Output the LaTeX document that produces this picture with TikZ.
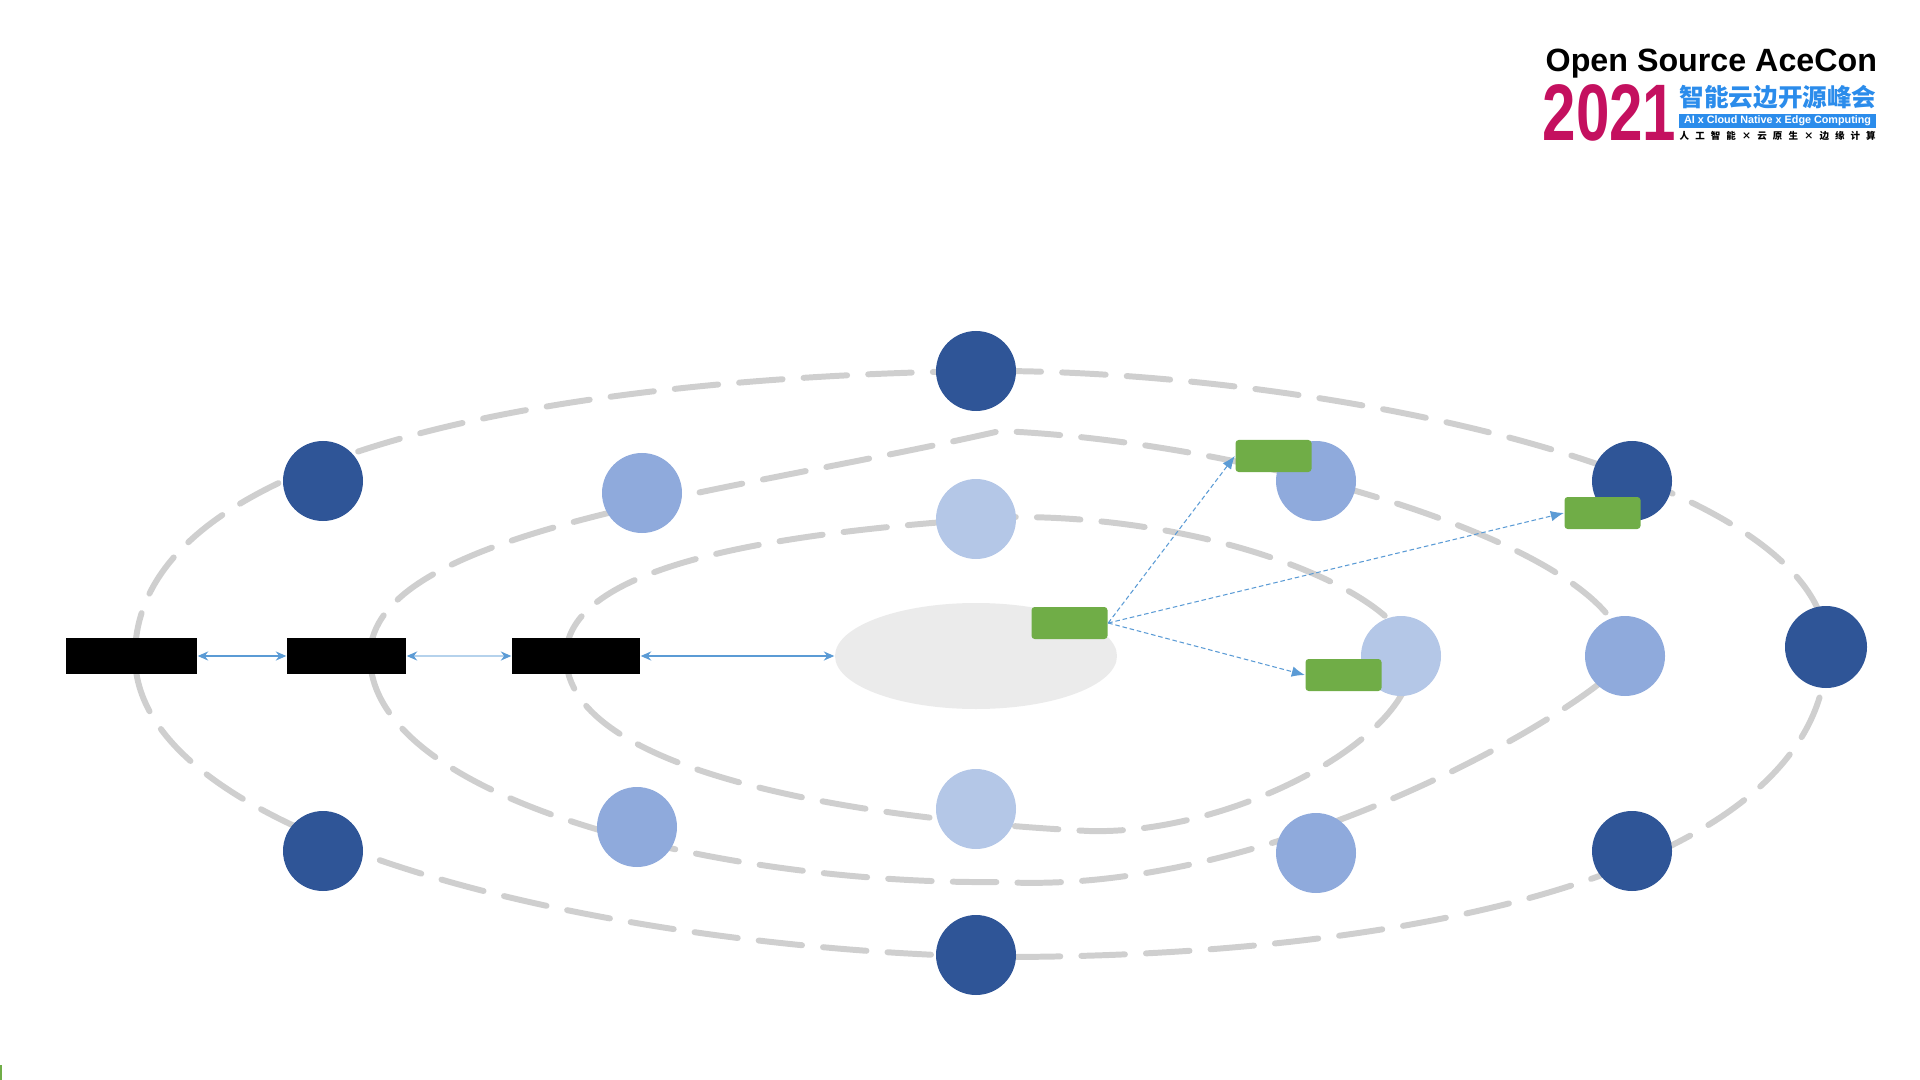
\documentclass[tikz,border=0pt]{standalone}
\usepackage{fontspec}
\setmainfont{Liberation Sans}
\newfontfamily\cjkfont{Noto Sans CJK SC}
\usepackage{xcolor}
\usetikzlibrary{positioning,arrows.meta,shapes.geometric}
\definecolor{outercol}{HTML}{2F5597}
\definecolor{midcol}{HTML}{8FAADC}
\definecolor{innercol}{HTML}{B4C7E7}
\definecolor{orbitcol}{HTML}{CFCFCF}
\definecolor{corecol}{HTML}{EBEBEB}
\definecolor{greencol}{HTML}{70AD47}
\definecolor{linkcol}{HTML}{5B9BD5}
\definecolor{logoblue}{HTML}{2B8CEB}
\definecolor{logored}{HTML}{C4105F}
\tikzset{
  orbit/.style={draw=orbitcol, line width=1.7pt, line cap=round, dash pattern=on 12.4pt off 6pt},
  dot/.style={circle, inner sep=0pt, minimum size=0.8cm},
  outerdot/.style={dot, fill=outercol},
  middot/.style={dot, fill=midcol},
  innerdot/.style={dot, fill=innercol},
  greenbox/.style={rectangle, rounded corners=0.9pt, fill=greencol, inner sep=0pt, minimum width=0.76cm, minimum height=0.32cm},
  blackbox/.style={rectangle, fill=black, inner sep=0pt, minimum height=0.36cm},
  link/.style={draw=linkcol, line width=0.4pt, {Stealth[length=3pt,width=2.6pt,color=linkcol]}-{Stealth[length=3pt,width=2.6pt,color=linkcol]}},
  hop/.style={draw=linkcol, line width=0.3pt, dash pattern=on 1.3pt off 0.8pt, -{Latex[length=3.7pt,width=3pt]}},
}
\begin{document}
\begin{tikzpicture}[y=-1cm]
  \useasboundingbox (0,0) rectangle (19.2,10.8);
  % orbits
  \draw[orbit] (1.35,6.56) .. controls (1.35,4.5) and (5.6,3.78) .. (9.76,3.71)
    .. controls (13,3.68) and (18.22,4.68) .. (18.27,6.47)
    .. controls (18.27,8.7) and (14.2,9.57) .. (10,9.57)
    .. controls (6.2,9.5) and (1.35,8.45) .. cycle;
  \draw[orbit] (3.70,6.56) .. controls (3.70,5.3) and (7.2,4.95) .. (10,4.31)
    .. controls (12.6,4.42) and (16.25,5.5) .. (16.25,6.56)
    .. controls (16.25,6.85) and (12.9,8.98) .. (10,8.82)
    .. controls (7.2,8.85) and (3.70,8) .. cycle;
  \draw[orbit] (5.66,6.56) .. controls (5.66,5.6) and (8,5.3) .. (10.16,5.17)
    .. controls (12.2,5.17) and (14.1,5.95) .. (14.12,6.6)
    .. controls (14.12,7.4) and (12.3,8.35) .. (10.89,8.31)
    .. controls (8.7,8.2) and (5.66,7.75) .. cycle;
  % centre
  \node[ellipse, fill=corecol, inner sep=0pt, minimum width=2.82cm, minimum height=1.06cm] (core) at (9.76,6.56) {};
  % outer ring
  \node[outerdot] (o1) at (3.23,4.81) {};
  \node[outerdot] (o2) at (9.76,3.71) {};
  \node[outerdot] (o3) at (16.32,4.81) {};
  \node[outerdot, minimum size=0.82cm] (o4) at (18.26,6.47) {};
  \node[outerdot] (o5) at (16.32,8.51) {};
  \node[outerdot] (o6) at (9.76,9.55) {};
  \node[outerdot] (o7) at (3.23,8.51) {};
  % middle ring
  \node[middot] (m1) at (6.42,4.93) {};
  \node[middot] (m2) at (13.16,4.81) {};
  \node[middot] (m3) at (16.25,6.56) {};
  \node[middot] (m4) at (13.16,8.53) {};
  \node[middot] (m5) at (6.37,8.27) {};
  % inner ring
  \node[innerdot] (i1) at (9.76,5.19) {};
  \node[innerdot] (i2) at (14.01,6.56) {};
  \node[innerdot] (i3) at (9.76,8.09) {};
  % left blocks
  \node[blackbox, minimum width=1.31cm] (b1) at (1.315,6.56) {};
  \node[blackbox, minimum width=1.19cm] (b2) at (3.465,6.56) {};
  \node[blackbox, minimum width=1.28cm] (b3) at (5.76,6.56) {};
  \draw[link] (b1) -- (b2);
  \draw[link, draw=linkcol!45] (b2) -- (b3);
  \draw[link] (b3) -- (core);
  % green boxes
  \node[greenbox] (g0) at (10.695,6.23) {};
  \node[greenbox] (g1) at (12.735,4.56) {};
  \node[greenbox] (g2) at (16.025,5.13) {};
  \node[greenbox] (g3) at (13.435,6.75) {};
  \draw[hop] (g0.east) -- (g1.west);
  \draw[hop] (g0.east) -- (g2.west);
  \draw[hop] (g0.east) -- (g3.west);
  % logo
  \node[anchor=base west, inner sep=0pt, font=\fontsize{9.17}{10}\selectfont\bfseries] (logotitle) at (15.45,0.715) {Open Source AceCon};
  \node[anchor=base west, inner sep=0pt, text=logored, font=\fontsize{22.8}{24}\selectfont\bfseries] (logoyear) at (15.42,1.41) {\scalebox{0.75}[1]{2021}};
  \node[anchor=base west, inner sep=0pt, text=logoblue, font=\cjkfont\fontsize{7}{8}\selectfont\bfseries] (logocn) at (16.79,1.07) {智能云边开源峰会};
  \node[fill=logoblue, text=white, inner sep=0pt, minimum width=1.97cm, minimum height=0.14cm, font=\fontsize{3.07}{3.5}\selectfont\bfseries] (logoband) at (17.775,1.21) {AI x Cloud Native x Edge Computing};
  \node[anchor=base west, inner sep=0pt, font=\cjkfont\fontsize{2.7}{3}\selectfont\bfseries] (logoslogan) at (16.79,1.395) {\makebox[1.96cm][s]{人\hfill 工\hfill 智\hfill 能\hfill ×\hfill 云\hfill 原\hfill 生\hfill ×\hfill 边\hfill 缘\hfill 计\hfill 算}};
  % corner mark
  \fill[greencol] (0,10.65) rectangle (0.02,10.8);
\end{tikzpicture}
\end{document}
